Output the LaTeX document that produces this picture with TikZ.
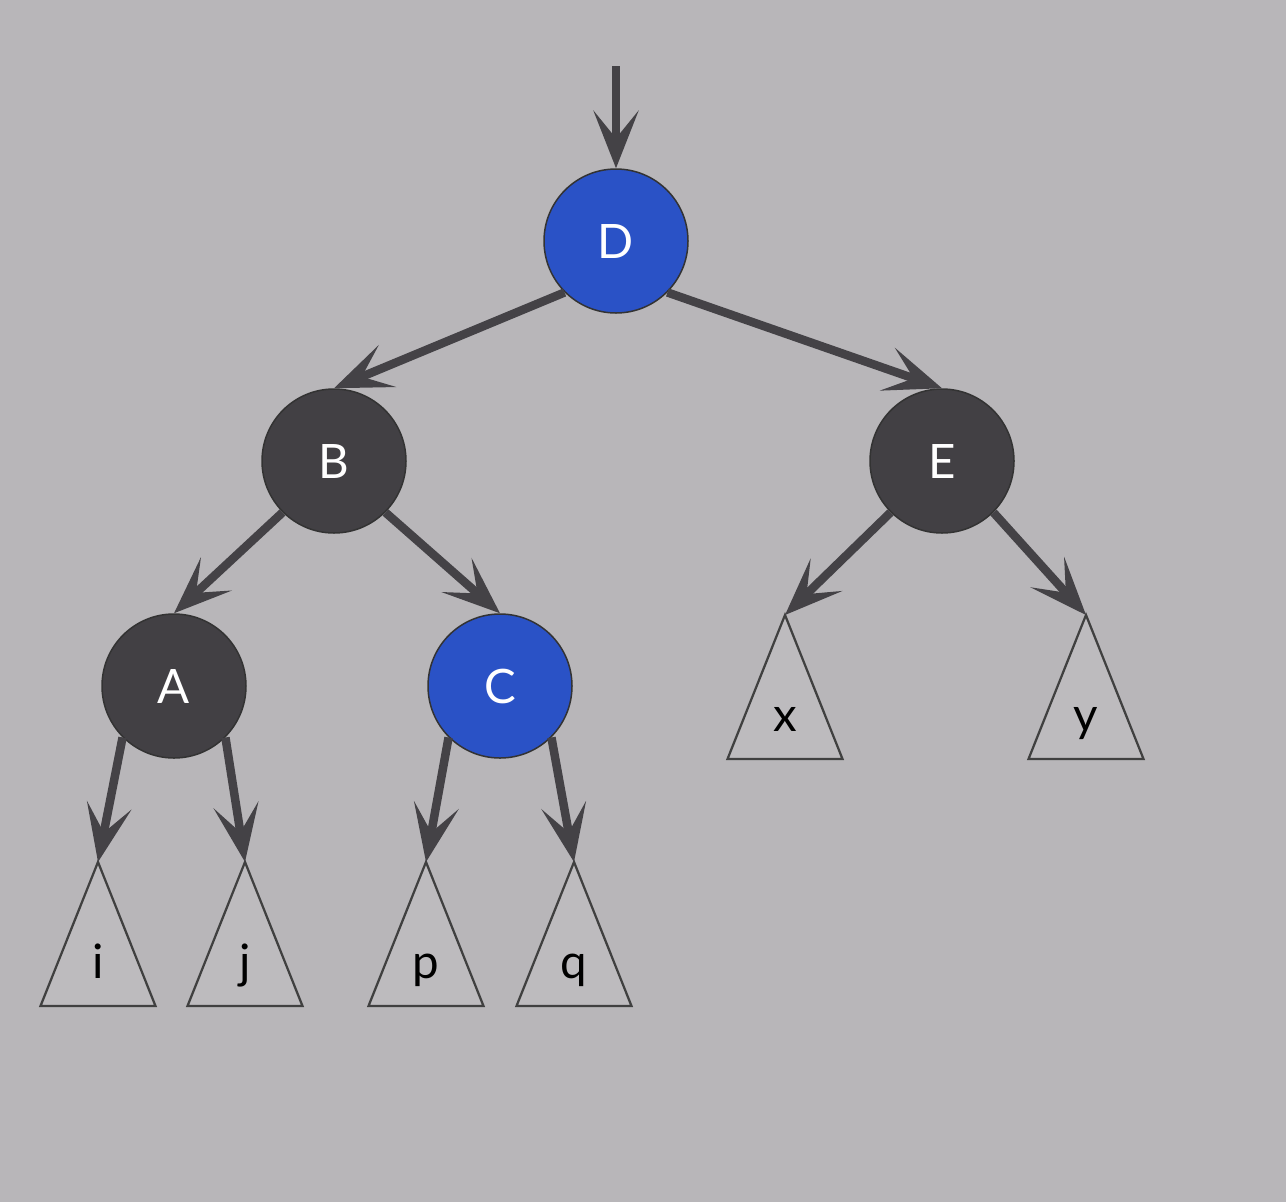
\documentclass[tikz,border=0pt]{standalone}
\usepackage{fontspec}
\setmainfont{Lato}
\usepackage{tikz}
\usetikzlibrary{arrows.meta}
\usetikzlibrary{positioning}

\definecolor{bgGray}{HTML}{B8B6B9}
\definecolor{edgeGray}{HTML}{444246}
\definecolor{darkNode}{HTML}{424044}
\definecolor{blueNode}{HTML}{2A52C6}
\definecolor{treeFill}{HTML}{BDBBBE}

\tikzset{
    ptr/.style={draw=edgeGray, line width=0.17cm,
        -{Stealth[length=1.15cm, width=0.9cm, inset=0.55cm]}},
    keynode/.style={circle, minimum size=2.88cm, inner sep=0pt,
        draw=black!80, line width=0.03cm, text=white,
        font=\fontsize{27}{32}\selectfont},
    blacknode/.style={keynode, fill=darkNode},
    bluenode/.style={keynode, fill=blueNode},
    subtree/.style={draw=black!75, line width=0.045cm, fill=treeFill},
    treelabel/.style={anchor=base, font=\fontsize{27}{32}\selectfont}
}

\newcommand{\subtreeAt}[2]{%
    \draw[subtree] (#1) -- ++(-1.15,-2.88) -- ++(2.3,0) -- cycle;
    \node[treelabel] (#1-lbl) at ([yshift=-2.32cm]#1) {#2};
}

\begin{document}
\begin{tikzpicture}[node distance=1cm, on grid]
    \fill[bgGray] (0,0) rectangle (25.72,-24.04);
    \useasboundingbox (0,0) rectangle (25.72,-24.04);

    % internal nodes
    \node[bluenode] (D) at (12.32,-4.82) {D};
    \node[blacknode, below left=4.4cm and 5.64cm of D] (B) {B};
    \node[blacknode, below right=4.4cm and 6.52cm of D] (E) {E};
    \node[blacknode, below left=4.5cm and 3.2cm of B] (A) {A};
    \node[bluenode, below right=4.5cm and 3.32cm of B] (C) {C};

    % subtree tips
    \coordinate[below left=3.52cm and 1.52cm of A] (ti);
    \coordinate[below right=3.52cm and 1.42cm of A] (tj);
    \coordinate[below left=3.52cm and 1.48cm of C] (tp);
    \coordinate[below right=3.52cm and 1.48cm of C] (tq);
    \coordinate[below left=3.08cm and 3.14cm of E] (tx);
    \coordinate[below right=3.08cm and 2.88cm of E] (ty);
    \coordinate (root) at (12.32,-1.32);

    \subtreeAt{ti}{i}
    \subtreeAt{tj}{j}
    \subtreeAt{tp}{p}
    \subtreeAt{tq}{q}
    \subtreeAt{tx}{x}
    \subtreeAt{ty}{y}

    % pointers
    \draw[ptr] (root) -- (D.north);
    \draw[ptr] (D.south west) -- (B.north);
    \draw[ptr] (D.south east) -- (E.north);
    \draw[ptr] (B.south west) -- (A.north);
    \draw[ptr] (B.south east) -- (C.north);
    \draw[ptr] (A.south west) -- (ti);
    \draw[ptr] (A.south east) -- (tj);
    \draw[ptr] (C.south west) -- (tp);
    \draw[ptr] (C.south east) -- (tq);
    \draw[ptr] (E.south west) -- (tx);
    \draw[ptr] (E.south east) -- (ty);
\end{tikzpicture}
\end{document}
